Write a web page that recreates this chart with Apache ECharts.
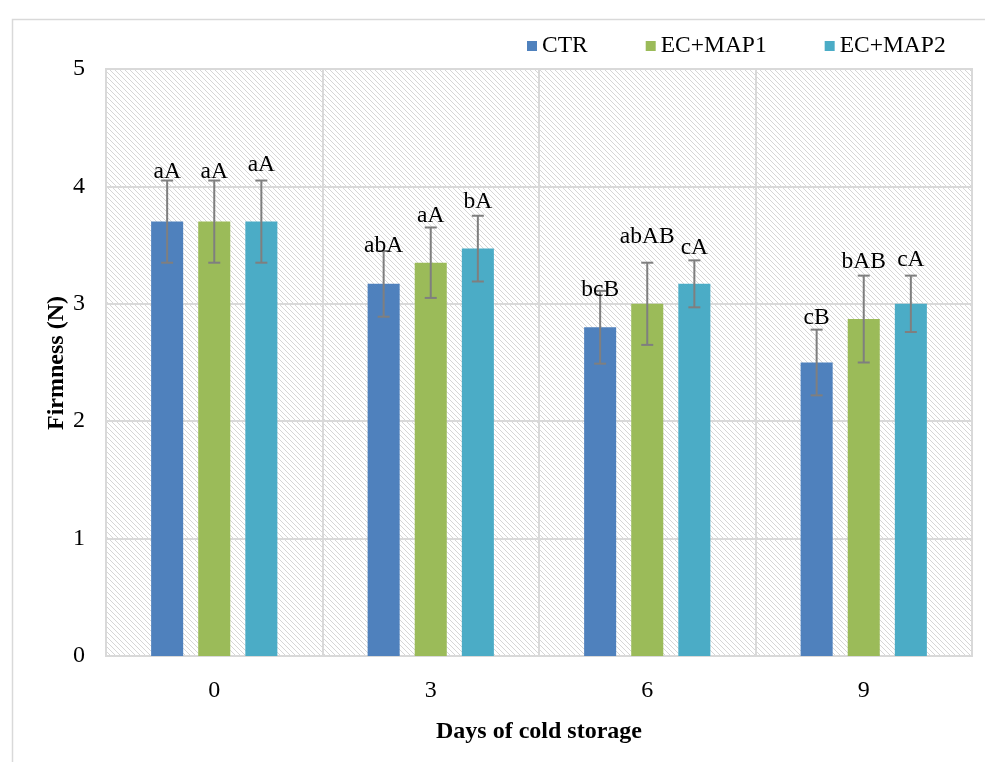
<!DOCTYPE html>
<html>
<head>
<meta charset="utf-8">
<script src="https://cdn.jsdelivr.net/npm/echarts@6/dist/echarts.min.js"></script>
<style>html,body{margin:0;padding:0;background:#fff;}#c{width:985px;height:762px;}</style>
</head>
<body>
<div id="c"></div>
<script>
// ---- data ----
const categories = ['0', '3', '6', '9'];
const seriesNames = ['CTR', 'EC+MAP1', 'EC+MAP2'];
const ctrValues = [3.70, 3.17, 2.80, 2.50];
const map1Values = [3.70, 3.35, 3.00, 2.87];
const map2Values = [3.70, 3.47, 3.17, 3.00];
const ctrErr = [0.35, 0.28, 0.31, 0.28];
const map1Err = [0.35, 0.30, 0.35, 0.37];
const map2Err = [0.35, 0.28, 0.20, 0.24];
const ctrLabels = ['aA', 'abA', 'bcB', 'cB'];
const map1Labels = ['aA', 'aA', 'abAB', 'bAB'];
const map2Labels = ['aA', 'bA', 'cA', 'cA'];
const yTicks = [0, 1, 2, 3, 4, 5];
const yAxisTitle = 'Firmness (N)';

// ---- style ----
const colors = ['#4f81bd', '#9bbb59', '#4bacc6'];
const labelDy = [
  [-9, -5, -1, -12],
  [-9, -12, -26, -14],
  [-16, -14, -13, -16]
];
const FONT = '"Liberation Serif", "Times New Roman", serif';
const BAR_W = 0.148, BAR_GAP = 0.47;

function hatch() {
  const s = 5;
  const c = document.createElement('canvas');
  c.width = s; c.height = s;
  const g = c.getContext('2d');
  g.fillStyle = '#ffffff';
  g.fillRect(0, 0, s, s);
  g.strokeStyle = '#d6d6d6';
  g.lineWidth = 1;
  for (const k of [-s, 0, s]) {
    g.beginPath();
    g.moveTo(k, 0);
    g.lineTo(k + s, s);
    g.stroke();
  }
  return c;
}

const values = [ctrValues, map1Values, map2Values];
const errs = [ctrErr, map1Err, map2Err];
const labels = [ctrLabels, map1Labels, map2Labels];

const barSeries = seriesNames.map((n, i) => ({
  name: n,
  type: 'bar',
  data: values[i],
  barWidth: (BAR_W * 100) + '%',
  barGap: (BAR_GAP * 100) + '%',
  itemStyle: { color: colors[i] },
  z: 2
}));

const errSeries = seriesNames.map((n, si) => ({
  type: 'custom',
  name: n + '_err',
  z: 5,
  data: values[si].map((v, j) => [j, v, errs[si][j], labels[si][j], labelDy[si][j]]),
  encode: { x: 0, y: 1 },
  renderItem: function (params, api) {
    const cat = api.value(0), v = api.value(1), e = api.value(2);
    const band = api.size([1, 0])[0];
    const bw = band * BAR_W, gap = bw * BAR_GAP;
    const total = 3 * bw + 2 * gap;
    const off = -total / 2 + bw / 2 + si * (bw + gap);
    const top = api.coord([cat, v + e]);
    const bot = api.coord([cat, v - e]);
    const x = top[0] + off;
    const cap = 6;
    const st = { stroke: '#7f7f7f', lineWidth: 2 };
    return {
      type: 'group',
      children: [
        { type: 'line', shape: { x1: x, y1: top[1], x2: x, y2: bot[1] }, style: st },
        { type: 'line', shape: { x1: x - cap, y1: top[1], x2: x + cap, y2: top[1] }, style: st },
        { type: 'line', shape: { x1: x - cap, y1: bot[1], x2: x + cap, y2: bot[1] }, style: st },
        { type: 'text', x: x, y: top[1] + api.value(4),
          style: { text: api.value(3), font: '23.5px ' + FONT, fill: '#000', align: 'center', verticalAlign: 'middle' } }
      ]
    };
  }
}));

const chart = echarts.init(document.getElementById('c'), null, { renderer: 'canvas' });
chart.setOption({
  animation: false,
  backgroundColor: '#fff',
  graphic: [{
    type: 'rect', left: 10, top: 17, shape: { width: 990, height: 760 },
    style: { fill: 'none', stroke: '#d9d9d9', lineWidth: 1.5 }, z: -10
  }, {
    type: 'text', x: 57, y: 363, rotation: Math.PI / 2,
    style: { text: yAxisTitle, font: 'bold 24px ' + FONT, fill: '#000', align: 'center', verticalAlign: 'middle' }
  }],
  legend: {
    data: seriesNames,
    left: 522, top: 29,
    itemWidth: 10, itemHeight: 10, itemGap: 58,
    icon: 'rect',
    textStyle: { fontFamily: FONT, fontSize: 23.5, color: '#000' }
  },
  grid: {
    left: 106, right: 13, top: 69, bottom: 106,
    show: true,
    backgroundColor: { image: hatch(), repeat: 'repeat' },
    borderColor: '#d9d9d9', borderWidth: 2
  },
  xAxis: {
    type: 'category',
    data: categories,
    name: 'Days of cold storage',
    nameLocation: 'middle',
    nameGap: 64,
    nameTextStyle: { fontFamily: FONT, fontSize: 24, fontWeight: 'bold', color: '#000' },
    axisTick: { show: false },
    axisLine: { lineStyle: { color: '#d9d9d9', width: 2 } },
    axisLabel: { fontFamily: FONT, fontSize: 24, color: '#000', margin: 23 },
    splitLine: { show: true, interval: 0, lineStyle: { color: '#d9d9d9', width: 2 } }
  },
  yAxis: {
    type: 'value',
    min: yTicks[0], max: yTicks[yTicks.length - 1], interval: 1,
    axisLine: { show: false },
    axisTick: { show: false },
    axisLabel: { fontFamily: FONT, fontSize: 24, color: '#000', margin: 21 },
    splitLine: { show: true, lineStyle: { color: '#d9d9d9', width: 2 } }
  },
  series: barSeries.concat(errSeries)
});
</script>
</body>
</html>
